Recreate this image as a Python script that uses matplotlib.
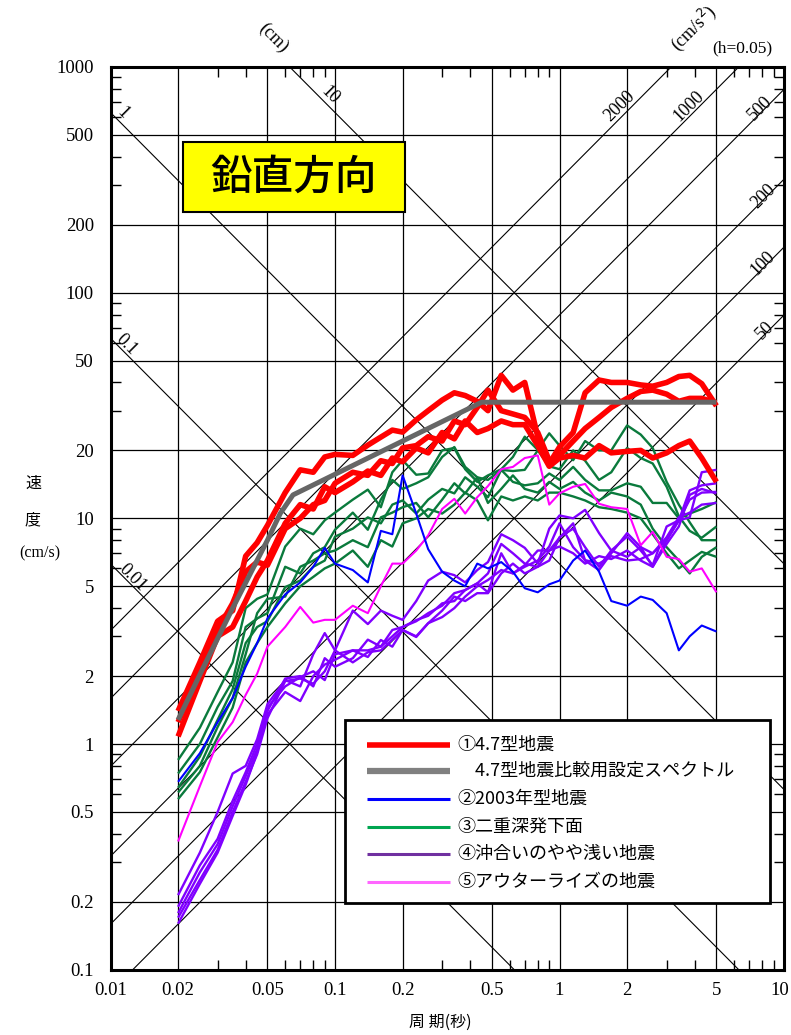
import matplotlib
matplotlib.use("Agg")
import numpy as np
import matplotlib.pyplot as plt
from matplotlib.patches import Rectangle
from matplotlib.ticker import FixedLocator, NullFormatter

JP = ["Noto Sans CJK JP", "DejaVu Sans"]
NUM = ["Liberation Serif", "DejaVu Serif"]

# --- データ (周期 秒 / 擬似速度 cm/s) ---
periods = [0.02, 0.025, 0.03, 0.035, 0.04, 0.045, 0.05, 0.06, 0.07, 0.08, 0.09, 0.1,
           0.12, 0.14, 0.16, 0.18, 0.2,
           0.23, 0.26, 0.3, 0.34, 0.38, 0.43, 0.48,
           0.55, 0.62, 0.7, 0.8, 0.9, 1.0,
           1.15, 1.3, 1.5, 1.7, 2.0,
           2.3, 2.6, 3.0, 3.4, 3.8, 4.3, 5.0]

# ①4.7型地震
red_a = [1.4, 2.3, 3.5, 3.9, 6.8, 7.8, 9.3, 13.0, 16.4, 16.0, 18.7, 19.2,
         19.0, 21.1, 22.9, 24.6, 24.1,
         27.3, 30.0, 33.4, 36.0, 35.0, 33.0, 30.0,
         43.0, 37.0, 40.0, 23.0, 17.5, 20.7,
         24.0, 36.0, 41.0, 40.0, 40.0,
         39.0, 38.5, 40.0, 42.5, 43.0, 39.5, 31.5]
red_b = [1.25, 2.1, 3.2, 4.2, 5.8, 6.4, 6.2, 9.0, 10.0, 11.5, 12.0, 14.3,
         16.0, 15.5, 18.0, 17.5, 20.5,
         21.0, 23.0, 22.0, 27.0, 26.0, 31.0, 37.0,
         30.0, 29.0, 28.0, 24.0, 18.0, 19.0,
         22.0, 25.0, 28.0, 31.0, 34.0,
         36.5, 37.0, 35.5, 33.0, 34.0, 34.0, 32.5]
red_c = [1.08, 1.9, 3.0, 3.3, 4.3, 5.5, 6.5, 9.5, 11.5, 11.0, 13.8, 13.0,
         14.5, 16.2, 15.5, 18.5, 17.8,
         20.5, 19.5, 24.0, 22.5, 27.0, 24.0, 25.0,
         27.0, 26.0, 26.0, 21.0, 17.0, 18.5,
         19.0, 18.5, 21.0, 19.5, 19.8,
         20.0, 18.5, 19.5, 21.0, 22.0, 18.5, 14.5]

# 4.7型地震比較用設定スペクトル
design_T = [0.02, 0.026, 0.035, 0.05, 0.057, 0.065, 0.45, 5.0]
design_sv = [1.28, 2.2, 4.0, 8.0, 10.5, 12.7, 32.7, 32.7]

# ②2003年型地震
blue = [0.68, 0.91, 1.25, 1.6, 2.2, 2.8, 3.6, 4.6, 5.2, 6.1, 7.4, 6.3,
        5.9, 5.2, 8.8, 8.5, 15.5,
        10.5, 7.3, 5.8, 5.3, 5.0, 6.3, 6.0,
        6.4, 5.8, 4.9, 4.7, 5.1, 5.3,
        6.5, 7.2, 5.8, 4.3, 4.1,
        4.5, 4.35, 3.8, 2.6, 3.0, 3.35, 3.15]

# ③二重深発下面
green_1 = [0.85, 1.18, 1.7, 2.3, 4.0, 4.4, 4.6, 7.5, 9.0, 8.5, 9.8, 10.6,
           12.1, 13.4, 11.2, 16.0, 18.1,
           15.6, 15.8, 20.0, 20.5, 16.5, 14.5, 15.5,
           16.5, 18.7, 23.0, 20.1, 23.8, 21.0,
           18.1, 22.0, 20.0, 20.0, 25.8,
           23.5, 20.5, 14.5, 11.5, 9.6, 8.0, 8.0]
green_2 = [0.74, 1.0, 1.46, 1.9, 3.3, 3.6, 3.8, 6.1, 5.7, 7.0, 7.45, 8.9,
           10.6, 8.9, 12.1, 14.8, 13.5,
           14.3, 15.2, 18.7, 20.7, 16.9, 15.2, 14.8,
           16.4, 16.2, 16.4, 20.0, 17.0, 16.5,
           20.0, 18.0, 14.8, 16.0, 20.5,
           18.5, 17.5, 13.8, 10.2, 8.8, 8.2, 9.2]
green_3 = [0.64, 0.88, 1.28, 1.75, 2.8, 3.3, 3.5, 4.96, 5.3, 6.1, 6.5, 8.3,
           9.0, 10.1, 9.5, 11.5, 12.0,
           10.5, 12.1, 13.5, 12.9, 15.2, 13.8, 12.4,
           16.4, 14.5, 14.0, 14.3, 15.8, 14.8,
           16.9, 14.8, 13.3, 13.3, 14.3,
           13.8, 11.7, 11.7, 10.0, 10.5, 11.0, 11.8]
green_4 = [0.61, 0.8, 1.19, 1.6, 2.5, 3.8, 4.4, 4.5, 6.1, 6.5, 7.0, 7.2,
           8.0, 7.45, 10.1, 10.6, 11.2,
           11.7, 10.1, 12.1, 14.3, 12.9, 15.2, 11.7,
           13.5, 15.5, 13.5, 13.0, 14.5, 13.5,
           14.5, 13.0, 12.0, 13.0, 12.5,
           11.5, 9.0, 7.45, 6.5, 5.7, 6.75, 7.45]
green_5 = [0.57, 0.75, 1.07, 1.45, 2.3, 2.8, 3.3, 4.2, 5.0, 5.5, 6.0, 6.3,
           7.2, 6.1, 8.0, 7.5, 9.5,
           10.0, 11.0, 10.5, 11.5, 13.0, 12.0, 9.8,
           12.5, 12.0, 12.5, 12.0, 13.0, 13.0,
           12.5, 12.0, 11.2, 11.0, 10.6,
           10.0, 8.5, 7.0, 6.0, 6.5, 7.1, 6.75]

# ④沖合いのやや浅い地震
purple_1 = [0.214, 0.33, 0.5, 0.74, 0.8, 1.05, 1.5, 1.92, 1.8, 2.5, 3.1, 2.6,
            3.9, 3.4, 3.9, 3.7, 3.55,
            4.3, 5.3, 5.8, 5.6, 5.2, 5.9, 6.4,
            8.5, 8.0, 7.4, 6.3, 9.0, 10.3,
            10.0, 10.9, 8.6, 7.2, 8.3,
            7.2, 6.2, 9.2, 9.8, 10.1, 16.0, 16.4]
purple_2 = [0.178, 0.27, 0.36, 0.53, 0.72, 0.95, 1.35, 1.7, 1.55, 2.0, 2.25, 2.36,
            2.6, 2.6, 2.7, 3.2, 3.3,
            3.5, 3.8, 4.1, 4.66, 4.81, 5.15, 5.7,
            7.7, 7.0, 6.3, 6.1, 6.5, 8.25,
            9.0, 7.45, 6.1, 7.2, 6.75,
            7.45, 7.0, 8.0, 9.8, 13.3, 14.0, 14.3]
purple_3 = [0.17, 0.25, 0.34, 0.5, 0.68, 0.9, 1.3, 1.9, 1.95, 1.85, 2.1, 2.6,
            2.3, 2.55, 2.6, 2.9, 3.2,
            3.0, 3.43, 3.65, 4.0, 4.5, 5.0, 5.33,
            5.9, 5.7, 6.2, 7.2, 7.2, 8.2,
            9.5, 6.5, 5.9, 7.0, 8.6,
            7.45, 6.1, 8.0, 9.8, 12.1, 13.0, 13.1]
purple_4 = [0.16, 0.24, 0.33, 0.48, 0.66, 0.92, 1.4, 1.95, 2.0, 1.8, 2.4, 2.2,
            2.4, 2.9, 2.7, 3.0, 3.3,
            3.54, 3.7, 4.2, 4.3, 4.81, 5.15, 4.7,
            7.0, 5.7, 6.1, 6.5, 7.5, 9.5,
            7.45, 6.53, 6.3, 6.8, 6.5,
            6.6, 7.0, 8.25, 10.1, 10.6, 11.5, 11.7]
purple_5 = [0.19, 0.29, 0.38, 0.56, 0.75, 1.0, 1.45, 1.8, 1.98, 2.1, 1.92, 2.5,
            2.6, 2.43, 2.89, 2.7, 3.2,
            2.98, 3.43, 3.9, 4.5, 4.3, 4.66, 4.66,
            5.7, 6.3, 5.7, 6.1, 7.2, 7.5,
            7.0, 6.3, 6.8, 6.6, 7.2,
            6.5, 6.1, 7.7, 9.2, 12.7, 13.5, 12.9]

# ⑤アウターライズの地震
pink = [0.37, 0.65, 1.02, 1.25, 1.65, 2.05, 2.7, 3.3, 4.05, 3.45, 3.55, 3.55,
        4.1, 3.8, 5.0, 6.3, 6.3,
        7.2, 8.4, 11.0, 12.2, 10.5, 12.4, 13.9,
        16.5, 16.9, 18.5, 19.0, 11.5, 12.9,
        13.8, 14.2, 11.6, 11.2, 11.0,
        7.6, 8.7, 6.75, 6.6, 5.8, 6.0, 4.7]

# 三軸目盛 (変位 cm, 加速度 cm/s2)
disp_lines = [0.01, 0.1, 1, 10]
acc_lines = [50, 100, 200, 500, 1000, 2000]

x_major = [0.01, 0.02, 0.05, 0.1, 0.2, 0.5, 1, 2, 5, 10]
x_labels = ["0.01", "0.02", "0.05", "0.1", "0.2", "0.5", "1", "2", "5", ""]
y_major = [0.1, 0.2, 0.5, 1, 2, 5, 10, 20, 50, 100, 200, 500, 1000]
y_labels = ["0.1", "0.2", "0.5", "1", "2", "5", "10", "20", "50", "100", "200", "500", "1000"]
minor_steps = [3, 4, 6, 7, 8, 9]

legend_labels = ["①4.7型地震", "　4.7型地震比較用設定スペクトル", "②2003年型地震",
                 "③二重深発下面", "④沖合いのやや浅い地震", "⑤アウターライズの地震"]


fig = plt.figure(figsize=(7.91, 10.35), dpi=100)
ax = fig.add_axes([0.1397, 0.0631, 0.8515, 0.8722])
ax.set_xscale("log")
ax.set_yscale("log")
ax.set_xlim(0.01, 10)
ax.set_ylim(0.1, 1000)

# 斜めの補助線
t_edge = np.array([0.01, 10.0])
for d in disp_lines:
    ax.plot(t_edge, 2 * np.pi * d / t_edge, color="k", lw=0.8, zorder=1)
for a in acc_lines:
    ax.plot(t_edge, a * t_edge / (2 * np.pi), color="k", lw=0.8, zorder=1)

# 目盛と格子
ax.set_xticks(x_major, labels=x_labels)
ax.set_yticks(y_major, labels=y_labels)
x_minor = [s * 10.0 ** e for e in (-2, -1, 0) for s in minor_steps]
y_minor = [s * 10.0 ** e for e in (-1, 0, 1, 2) for s in minor_steps]
ax.xaxis.set_minor_locator(FixedLocator(x_minor))
ax.yaxis.set_minor_locator(FixedLocator(y_minor))
ax.xaxis.set_minor_formatter(NullFormatter())
ax.yaxis.set_minor_formatter(NullFormatter())
ax.grid(True, which="major", color="k", lw=0.9, zorder=1)
ax.tick_params(which="major", length=0, pad=9, labelsize=13.5)
ax.tick_params(axis="y", which="major", pad=12)
ax.tick_params(which="minor", direction="in", length=7.5, width=1.0,
               top=True, right=True, bottom=True, left=True)
for lab in ax.get_xticklabels() + ax.get_yticklabels():
    lab.set_fontfamily(NUM)
for sp in ax.spines.values():
    sp.set_linewidth(2.2)
    sp.set_zorder(6)
# 右端の「10」は画像の端に収まるよう少し左へ
ax.annotate("10", xy=(10, 0.1), xytext=(-3, -9), textcoords="offset points",
            fontfamily=NUM, fontsize=13.5, ha="center", va="top",
            annotation_clip=False)

# 応答スペクトル
line_kw = dict(solid_joinstyle="round", solid_capstyle="butt")
for g in (green_1, green_2, green_3, green_4, green_5):
    ax.plot(periods, g, color="#0a7a3c", lw=1.7, zorder=3, **line_kw)
for p in (purple_1, purple_2, purple_3, purple_4, purple_5):
    ax.plot(periods, p, color="#8000ff", lw=1.7, zorder=3, **line_kw)
ax.plot(periods, pink, color="#ff00ff", lw=1.5, zorder=3, **line_kw)
ax.plot(periods, blue, color="#0000ff", lw=1.5, zorder=3, **line_kw)
for r in (red_a, red_b, red_c):
    ax.plot(periods, r, color="#ff0000", lw=4.0, zorder=4, **line_kw)
ax.plot(design_T, design_sv, color="#666666", lw=3.6, zorder=5, **line_kw)

# 斜線のラベル
small = dict(fontfamily=NUM, fontsize=13, ha="center", va="center",
             rotation_mode="anchor", clip_on=False, zorder=2)
ax.text(0.01135, 625, "1", rotation=-45, **small)
ax.text(0.0951, 750, "10", rotation=-45, **small)
ax.text(0.01183, 58.6, "0.1", rotation=-45, **small)
ax.text(0.01257, 5.44, "0.01", rotation=-45, **small)
ax.text(0.053, 1343, "(cm)", rotation=-45, **small)
ax.text(1.86, 671, "2000", rotation=45, **small)
ax.text(3.75, 671, "1000", rotation=45, **small)
ax.text(7.84, 657, "500", rotation=45, **small)
ax.text(8.07, 268, "200", rotation=45, **small)
ax.text(8.07, 135, "100", rotation=45, **small)
ax.text(8.25, 68.3, "50", rotation=45, **small)
ax.text(3.94, 1487, "(cm/s$^2$)", rotation=45, **small)
ax.text(6.52, 1213, "(h=0.05)", fontfamily=NUM, fontsize=12.5, ha="center",
        va="center", clip_on=False)

# 見出し
ax.add_patch(Rectangle((0.1076, 0.8394), 0.3296, 0.0775, transform=ax.transAxes,
                       facecolor="#ffff00", edgecolor="k", lw=1.5, zorder=8))
ax.text(0.1076 + 0.3296 / 2, 0.8394 + 0.0775 / 2, "鉛直方向", transform=ax.transAxes,
        fontfamily=JP, fontsize=30, fontweight="medium", ha="center", va="center", zorder=9)

# 凡例
ax.add_patch(Rectangle((0.3482, 0.0739), 0.6310, 0.2027, transform=ax.transAxes,
                       facecolor="white", edgecolor="k", lw=2.0, zorder=8))
leg_colors = ["#ff0000", "#808080", "#0000ff", "#00a550", "#7030a0", "#ff66ff"]
leg_widths = [4.0, 4.5, 2.2, 2.2, 2.2, 2.2]
leg_rows = [0.2489, 0.2201, 0.1891, 0.1581, 0.1281, 0.0971]
for lab, c, w, yy in zip(legend_labels, leg_colors, leg_widths, leg_rows):
    ax.plot([0.3809, 0.5041], [yy, yy], transform=ax.transAxes, color=c, lw=w,
            solid_capstyle="butt", zorder=9)
    ax.text(0.5145, yy, lab, transform=ax.transAxes, fontfamily=JP, fontsize=13,
            ha="left", va="center", zorder=9)

# 軸ラベル
fig.text(0.0417, 0.5333, "速", fontfamily=JP, fontsize=11.5, ha="center", va="center")
fig.text(0.0417, 0.4976, "度", fontfamily=JP, fontsize=11.5, ha="center", va="center")
fig.text(0.0506, 0.4657, "(cm/s)", fontfamily=NUM, fontsize=11.5, ha="center", va="center")
fig.text(0.5563, 0.0126, "周 期(秒)", fontfamily=JP, fontsize=11.5, ha="center", va="center")

fig.savefig("out.png", dpi=100)
